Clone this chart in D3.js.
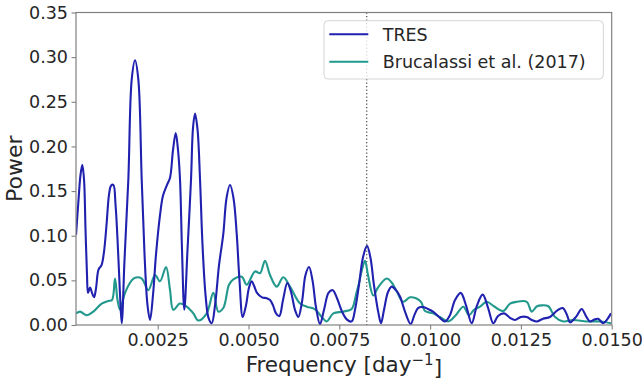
<!DOCTYPE html>
<html>
<head>
<meta charset="utf-8">
<script src="https://cdn.jsdelivr.net/npm/d3@7"></script>
<style>
  html, body { margin: 0; padding: 0; background: #fff; }
  svg { display: block; }
  text { font-family: "DejaVu Sans", sans-serif; fill: #262626; }
</style>
</head>
<body>
<svg id="chart" width="642" height="381"></svg>
<script>
// Periodogram: frequency in day^-1, power (unitless)
const tresFreq = [
  0.000251, 0.000319, 0.000374, 0.000424, 0.000471, 0.000512, 0.000553, 0.000581,
  0.000636, 0.000691, 0.000746, 0.000801, 0.000870, 0.000953, 0.001021, 0.001090,
  0.001159, 0.001214, 0.001278, 0.001338, 0.001407, 0.001462, 0.001509, 0.001586,
  0.001691, 0.001784, 0.001875, 0.001966, 0.002059, 0.002137, 0.002219, 0.002288,
  0.002371, 0.002453, 0.002563, 0.002646, 0.002756, 0.002839, 0.002921, 0.002996,
  0.003059, 0.003114, 0.003169, 0.003232, 0.003320, 0.003417, 0.003472, 0.003527,
  0.003596, 0.003665, 0.003733, 0.003816, 0.003899, 0.003987, 0.004078, 0.004188,
  0.004306, 0.004394, 0.004491, 0.004587, 0.004675, 0.004752, 0.004840, 0.004931,
  0.005014, 0.005088, 0.005152, 0.005234, 0.005372, 0.005501, 0.005592, 0.005675,
  0.005757, 0.005848, 0.005950, 0.006068, 0.006170, 0.006280, 0.006371, 0.006473,
  0.006569, 0.006666, 0.006762, 0.006858, 0.006969, 0.007079, 0.007203, 0.007318,
  0.007437, 0.007574, 0.007712, 0.007841, 0.007932, 0.008042, 0.008153, 0.008263,
  0.008359, 0.008453, 0.008579, 0.008648, 0.008731, 0.008841, 0.008943, 0.009061,
  0.009171, 0.009309, 0.009466, 0.009557, 0.009667, 0.009813, 0.009939, 0.010080,
  0.010245, 0.010410, 0.010545, 0.010686, 0.010843, 0.010989, 0.011145, 0.011291,
  0.011448, 0.011598, 0.011740, 0.011870, 0.012035, 0.012200, 0.012338, 0.012500,
  0.012660, 0.012800, 0.012935, 0.013109, 0.013301, 0.013494, 0.013651, 0.013772,
  0.013852, 0.014033, 0.014174, 0.014292, 0.014403, 0.014513, 0.014623, 0.014769,
  0.014871, 0.014981
];
const tresPower = [
  0.101, 0.140, 0.168, 0.1795, 0.163, 0.107, 0.056, 0.036,
  0.042, 0.036, 0.031, 0.041, 0.062, 0.067, 0.082, 0.112,
  0.146, 0.156, 0.157, 0.135, 0.084, 0.034, 0.002, 0.073,
  0.163, 0.275, 0.2965, 0.275, 0.163, 0.079, 0.022, 0.0056,
  0.034, 0.079, 0.123, 0.145, 0.157, 0.165, 0.196, 0.215,
  0.196, 0.163, 0.084, 0.017, 0.084, 0.163, 0.221, 0.2367,
  0.219, 0.163, 0.090, 0.034, 0.008, 0.002, 0.022, 0.067,
  0.102, 0.142, 0.157, 0.142, 0.102, 0.050, 0.009, 0.022,
  0.042, 0.049, 0.044, 0.036, 0.031, 0.030, 0.028, 0.022,
  0.013, 0.010, 0.028, 0.047, 0.037, 0.017, 0.009, 0.026,
  0.056, 0.065, 0.050, 0.020, 0.001, 0.017, 0.036, 0.039,
  0.030, 0.015, 0.006, 0.004, 0.017, 0.045, 0.076, 0.0886,
  0.075, 0.045, 0.013, 0.002, 0.017, 0.037, 0.043, 0.039,
  0.032, 0.015, 0.001, 0.010, 0.019, 0.020, 0.018, 0.015,
  0.009, 0.004, 0.011, 0.028, 0.036, 0.022, 0.002, 0.022,
  0.034, 0.019, 0.002, 0.010, 0.013, 0.008, 0.0056, 0.009,
  0.009, 0.0056, 0.004, 0.007, 0.009, 0.016, 0.019, 0.011,
  0.003, 0.010, 0.018, 0.010, 0.004, 0.006, 0.007, 0.002,
  0.006, 0.013
];

const brucFreq = [
  0.000251, 0.000361, 0.000545, 0.000727, 0.000958, 0.001140, 0.001242, 0.001324,
  0.001393, 0.001462, 0.001600, 0.001784, 0.001875, 0.002059, 0.002241, 0.002426,
  0.002563, 0.002729, 0.002839, 0.002930, 0.003114, 0.003298, 0.003480, 0.003618,
  0.003849, 0.004031, 0.004169, 0.004306, 0.004463, 0.004582, 0.004813, 0.004950,
  0.005179, 0.005317, 0.005454, 0.005592, 0.005776, 0.005958, 0.006143, 0.006418,
  0.006602, 0.006831, 0.007015, 0.007153, 0.007335, 0.007610, 0.007841, 0.007960,
  0.008042, 0.008125, 0.008207, 0.008290, 0.008436, 0.008566, 0.008805, 0.008951,
  0.009089, 0.009254, 0.009447, 0.009612, 0.009750, 0.009860, 0.010080, 0.010272,
  0.010501, 0.010686, 0.010914, 0.011071, 0.011209, 0.011374, 0.011558, 0.011759,
  0.012015, 0.012200, 0.012384, 0.012660, 0.012797, 0.012943, 0.013073, 0.013254,
  0.013439, 0.013667, 0.013934, 0.014312, 0.014678, 0.014981
];
const brucPower = [
  0.013, 0.015, 0.011, 0.015, 0.024, 0.027, 0.028, 0.052,
  0.028, 0.017, 0.036, 0.050, 0.053, 0.052, 0.039, 0.056,
  0.049, 0.065, 0.039, 0.017, 0.024, 0.0205, 0.013, 0.005,
  0.013, 0.036, 0.015, 0.019, 0.045, 0.051, 0.054, 0.045,
  0.060, 0.058, 0.072, 0.056, 0.043, 0.0535, 0.043, 0.024,
  0.0205, 0.0176, 0.009, 0.004, 0.013, 0.015, 0.018, 0.034,
  0.047, 0.062, 0.072, 0.056, 0.033, 0.042, 0.052, 0.047,
  0.037, 0.026, 0.031, 0.030, 0.026, 0.0157, 0.013, 0.009,
  0.004, 0.010, 0.0205, 0.011, 0.017, 0.0205, 0.026, 0.021,
  0.0157, 0.024, 0.026, 0.026, 0.015, 0.021, 0.022, 0.021,
  0.009, 0.004, 0.0056, 0.004, 0.004, 0.002
];

const xTicks = [0.0025, 0.0050, 0.0075, 0.0100, 0.0125, 0.0150];
const yTicks = [0.00, 0.05, 0.10, 0.15, 0.20, 0.25, 0.30, 0.35];
const markedFreq = 0.008254;   // dotted reference frequency
const seriesNames = ["TRES", "Brucalassi et al. (2017)"];
const seriesColors = ["#2121b0", "#22998c"];

const svg = d3.select("#chart");
const plotLeft = 76, plotRight = 611.7, plotTop = 12.5, plotBottom = 325;

const x = d3.scaleLinear().domain([0.00025, 0.015]).range([plotLeft, plotRight]);
const y = d3.scaleLinear().domain([0, 0.35]).range([plotBottom, plotTop]);

svg.append("defs").append("clipPath").attr("id", "plotclip")
  .append("rect").attr("x", plotLeft).attr("y", plotTop)
  .attr("width", plotRight - plotLeft).attr("height", plotBottom - plotTop);

// reference frequency
svg.append("line")
  .attr("x1", x(markedFreq)).attr("x2", x(markedFreq))
  .attr("y1", y(0.35)).attr("y2", y(0))
  .attr("stroke", "#555").attr("stroke-width", 1.3)
  .attr("stroke-dasharray", "1.3,2.2");

const line = d3.line()
  .x(d => x(d[0])).y(d => y(d[1]))
  .curve(d3.curveCatmullRom.alpha(0.5));

const series = [
  d3.zip(tresFreq, tresPower),
  d3.zip(brucFreq, brucPower)
];

const g = svg.append("g").attr("clip-path", "url(#plotclip)");
// draw Brucalassi first so TRES sits on top
[1, 0].forEach(i => {
  g.append("path")
    .datum(series[i])
    .attr("fill", "none")
    .attr("stroke", seriesColors[i])
    .attr("stroke-width", 2.1)
    .attr("stroke-linejoin", "round")
    .attr("d", line);
});

// axes
const xAxis = d3.axisBottom(x).tickValues(xTicks).tickFormat(d3.format(".4f"))
  .tickSize(4.5).tickPadding(4);
const yAxis = d3.axisLeft(y).tickValues(yTicks).tickFormat(d3.format(".2f"))
  .tickSize(4.5).tickPadding(3.5);

const gx = svg.append("g").attr("transform", `translate(0,${plotBottom})`).call(xAxis);
const gy = svg.append("g").attr("transform", `translate(${plotLeft},0)`).call(yAxis);
[gx, gy].forEach(a => {
  a.select(".domain").remove();
  a.selectAll(".tick line").attr("stroke", "#808080").attr("stroke-width", 1.1);
  a.selectAll(".tick text").style("font-size", "17.5px").attr("fill", "#262626");
});

// frame
svg.append("rect")
  .attr("x", plotLeft).attr("y", plotTop)
  .attr("width", plotRight - plotLeft).attr("height", plotBottom - plotTop)
  .attr("fill", "none").attr("stroke", "#808080").attr("stroke-width", 1.2);

// axis titles
const xt = svg.append("text")
  .attr("x", (plotLeft + plotRight) / 2).attr("y", 372)
  .attr("text-anchor", "middle").style("font-size", "21.5px");
xt.append("tspan").text("Frequency [day");
xt.append("tspan").attr("dy", "-0.45em").style("font-size", "15px").text("\u22121");
xt.append("tspan").attr("dy", "0.45em").text("]");

svg.append("text")
  .attr("transform", `translate(22,${(plotTop + plotBottom) / 2}) rotate(-90)`)
  .attr("text-anchor", "middle").style("font-size", "22px")
  .text("Power");

// legend
const lg = svg.append("g");
lg.append("rect")
  .attr("x", 324).attr("y", 20.7).attr("width", 279.3).attr("height", 58.3)
  .attr("rx", 4).attr("fill", "#fff").attr("fill-opacity", 0.8)
  .attr("stroke", "#d5d5d5").attr("stroke-width", 1);
seriesNames.forEach((name, i) => {
  const ly = 34.3 + i * 27.4;
  lg.append("line")
    .attr("x1", 329.3).attr("x2", 368.3).attr("y1", ly).attr("y2", ly)
    .attr("stroke", seriesColors[i]).attr("stroke-width", 2.1);
  lg.append("text")
    .attr("x", 382.7).attr("y", ly).attr("dy", "0.36em")
    .style("font-size", "17.5px").text(name);
});
</script>
</body>
</html>
